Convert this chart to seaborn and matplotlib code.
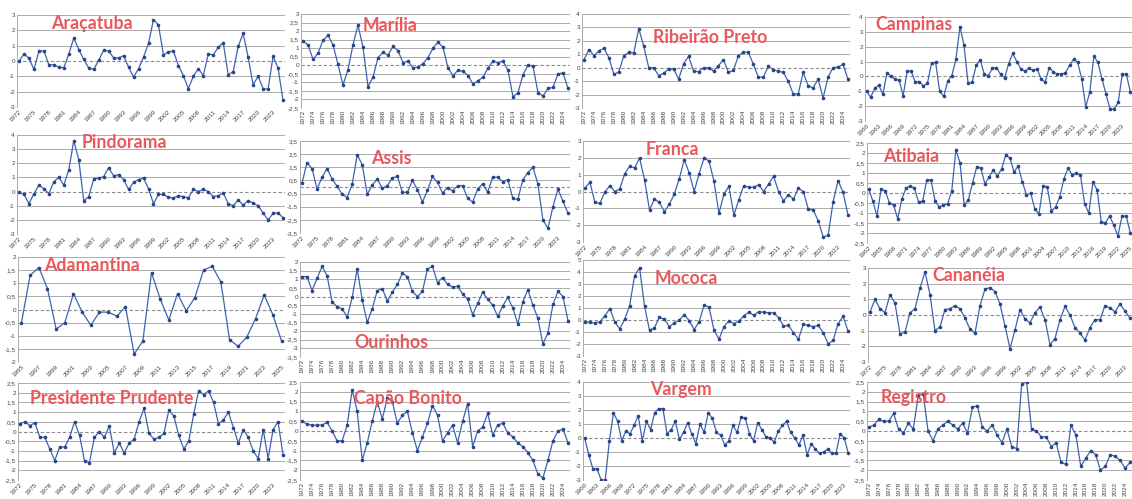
import matplotlib
matplotlib.use("Agg")
import matplotlib.pyplot as plt
import numpy as np
import pandas as pd
import seaborn as sns

# ---- data: standardized index per station (one value per year) ----
ARACATUBA = [0.0, 0.45, 0.2, -0.55, 0.65, 0.65, -0.25, -0.25, -0.4, -0.45, 0.45, 1.5, 0.75, 0.1,
             -0.45, -0.55, 0.05, 0.7, 0.65, 0.2, 0.2, 0.35, -0.4, -1.05, -0.5, 0.25, 1.15, 2.7,
             2.35, 0.4, 0.6, 0.65, -0.3, -0.95, -1.8, -1.0, -0.5, -0.95, 0.45, 0.4, 0.9, 1.2,
             -0.9, -0.7, 0.95, 1.8, 0.25, -1.55, -1.0, -1.8, -1.85, 0.3, -0.45, -2.55]
MARILIA = [1.4, 1.2, 0.35, 0.7, 1.45, 1.75, 1.2, 0.05, -1.15, -0.25, 1.2, 2.35, 1.05, -1.25,
           -0.7, 0.45, 0.75, 0.6, 1.1, 0.85, 0.15, 0.25, -0.15, -0.1, 0.1, 0.45, 1.0, 1.35,
           1.05, -0.15, -0.6, -0.3, -0.35, -0.6, -1.1, -0.9, -0.7, -0.15, 0.25, 0.15, 0.25,
           -0.3, -1.85, -1.6, -0.55, 0.0, -0.05, -1.6, -1.8, -1.35, -1.3, -0.5, -0.45, -1.35]
RIBEIRAO_PRETO = [0.6, 1.35, 0.9, 1.25, 1.45, 0.75, -0.5, -0.3, 0.9, 1.15, 1.1, 2.9, 1.6, 0.0,
                  0.0, -0.6, -0.4, -0.1, -0.1, -0.85, 0.3, 0.85, -0.25, -0.3, 0.0, 0.0, -0.25,
                  0.15, 0.6, -0.35, -0.2, 0.9, 1.15, 1.15, 0.25, -0.7, -0.7, 0.1, -0.15, -0.25,
                  -0.35, -1.0, -1.95, -1.95, -0.35, -1.35, -1.5, -0.85, -2.25, -0.7, 0.0, 0.05,
                  0.25, -0.85]
CAMPINAS = [-1.0, -1.4, -0.8, -0.6, -1.2, 0.2, 0.05, -0.2, -0.25, -1.3, 0.35, 0.35, -0.4,
            -0.35, -0.65, -0.45, 0.9, 0.95, -1.0, -1.35, -0.3, 0.05, 1.15, 3.35, 2.1, -0.45,
            -0.4, 0.75, 1.1, 0.15, 0.05, 0.55, 0.6, 0.15, -0.1, 0.85, 1.55, 1.0, 0.5, 0.35,
            0.55, 0.4, 0.5, -0.15, -0.4, 0.6, 0.3, 0.15, 0.15, 0.25, 0.75, 1.15, 0.95, -0.15,
            -2.05, -1.05, 1.35, 0.95, -0.15, -1.2, -2.2, -2.2, -1.75, 0.15, 0.15, -1.05]
PINDORAMA = [-0.05, -0.2, -0.85, -0.15, 0.45, 0.2, -0.15, 0.7, 1.0, 0.45, 1.55, 3.6, 2.25,
             -0.65, -0.35, 0.9, 0.95, 1.05, 1.7, 1.1, 1.2, 0.85, 0.15, 0.65, 0.85, 0.95, 0.2,
             -0.85, -0.2, -0.2, -0.4, -0.45, -0.3, -0.35, -0.45, 0.15, 0.0, 0.15, 0.0, -0.35,
             -0.3, -0.1, -0.85, -1.0, -0.6, -0.95, -0.65, -0.8, -1.0, -1.5, -2.0, -1.55, -1.5,
             -1.85]
ASSIS = [0.3, 1.85, 1.4, -0.15, 0.75, 1.4, 0.6, 0.05, -0.55, -0.8, 0.2, 2.45, 1.7, -0.55,
         0.15, 0.6, -0.1, 0.1, 0.7, 0.8, -0.4, -0.4, 0.5, -0.2, -1.15, -0.25, 0.8, 0.35, -0.45,
         -0.05, -0.3, 0.1, 0.1, -0.85, -1.15, -0.15, 0.25, -0.4, 0.75, 0.75, 0.4, 0.55, -0.85,
         -0.95, 0.55, 1.1, 1.5, 0.25, -2.5, -3.15, -1.5, -0.15, -1.1, -2.0]
FRANCA = [0.2, 0.55, -0.65, -0.7, -0.05, 0.35, 0.0, 0.15, 1.05, 1.5, 1.4, 2.0, 0.7, -1.1,
          -0.45, -0.65, -1.2, -0.75, -0.15, 0.75, 1.9, 1.1, 0.0, 1.05, 2.0, 1.8, 0.6, -1.3,
          -0.15, 0.3, -1.4, -0.5, 0.35, 0.25, 0.25, 0.4, 0.0, 0.45, 0.9, 0.0, -0.55, -0.2,
          -0.45, 0.2, 0.0, -1.05, -1.1, -1.75, -2.7, -2.6, -0.6, 0.65, -0.05, -1.4]
ATIBAIA = [0.2, -0.4, -1.15, 0.2, 0.1, -0.5, -0.6, -1.3, -0.3, 0.25, 0.35, 0.25, -0.45, -0.4,
           0.65, 0.65, -0.4, -0.7, -0.6, -0.55, 0.1, 2.15, 1.5, -0.6, -0.35, 0.5, 1.3, 1.25,
           0.45, 0.8, 1.15, 0.85, 1.2, 1.9, 1.75, 1.05, 1.35, 0.55, -0.1, 0.0, -0.8, -1.05,
           0.35, 0.3, -0.9, -0.7, -0.2, 0.7, 1.25, 0.9, 1.0, 0.9, -0.55, -1.0, 0.55, 0.15,
           -1.45, -1.5, -1.15, -1.6, -2.15, -1.15, -1.15, -2.0]
ADAMANTINA = [-0.5, 1.3, 1.6, 0.8, -0.75, -0.5, 0.6, -0.1, -0.6, -0.1, -0.1, -0.25, 0.1, -1.7,
              -1.2, 1.4, 0.4, -0.4, 0.6, -0.05, 0.45, 1.5, 1.65, 1.05, -1.15, -1.4, -1.05,
              -0.35, 0.55, -0.2, -1.2]
OURINHOS = [1.15, 1.15, 0.35, 1.05, 1.75, 1.2, -0.3, -0.6, -0.7, -1.2, -0.05, 1.6, -0.2, -1.5,
            -0.7, 0.35, 0.45, -0.25, 0.25, 0.7, 1.35, 1.15, 0.3, 0.0, 0.3, 1.6, 1.75, 0.8, 1.1,
            0.7, 0.55, 0.6, 0.15, -0.15, -1.05, -0.4, 0.25, -0.15, -0.5, -1.15, -0.55, -0.05,
            -0.65, -1.6, -0.3, 0.4, -0.5, -1.25, -2.75, -2.1, -0.45, 0.3, 0.0, -1.4]
MOCOCA = [-0.15, -0.2, -0.25, -0.15, 0.35, 0.95, -0.15, -0.75, 0.05, 1.2, 3.7, 4.35, 1.15,
          -0.85, -0.65, 0.25, 0.05, -0.55, -0.25, 0.0, 0.45, -0.05, -0.8, -0.15, 1.25, 1.05,
          -0.85, -1.6, -0.55, -0.05, -0.3, -0.1, 0.35, 0.65, 0.4, 0.7, 0.65, 0.6, 0.6, 0.2,
          -0.5, -0.45, -1.05, -1.6, -0.35, -0.45, -0.55, -0.45, -1.05, -2.0, -1.7, -0.3, 0.3,
          -0.9]
CANANEIA = [0.2, 1.0, 0.4, 0.15, 1.3, 0.75, -1.2, -1.1, 0.15, 0.4, 1.7, 2.75, 1.3, -1.0,
            -0.75, 0.35, 0.4, 0.6, 0.4, -0.2, -0.9, -1.15, 0.6, 1.65, 1.75, 1.5, 0.7, -0.7,
            -2.15, -0.95, 0.35, -0.25, -0.5, 0.15, 0.5, -0.3, -1.9, -1.5, -0.3, 0.55, 0.0,
            -0.8, -1.15, -1.6, -0.8, -0.3, -0.3, 0.6, 0.45, 0.2, 0.7, 0.25, -0.2]
PRESIDENTE_PRUDENTE = [0.4, 0.5, 0.3, 0.45, -0.3, -0.3, -0.9, -1.5, -0.8, -0.8, -0.3, 0.5, -0.2,
                       -1.5, -1.6, -0.3, 0.0, -0.3, 0.3, -1.1, -0.6, -1.1, -0.6, -0.4, 0.5, 1.2,
                       -0.1, -0.4, -0.3, -0.1, 1.1, 0.8, -0.2, -0.9, -0.5, 0.9, 2.1, 1.9, 2.1,
                       1.5, 0.4, 0.6, 1.0, 0.2, -0.6, 0.1, -0.3, -1.0, -1.4, 0.1, -1.4, 0.1,
                       0.5, -1.2]
CAPAO_BONITO = [0.5, 0.35, 0.3, 0.3, 0.3, 0.45, 0.0, -0.5, -0.5, 0.3, 2.1, 1.0, -1.5, -0.6,
                0.5, 1.5, 0.6, 1.7, 1.5, 0.4, 0.8, 1.0, -0.1, -1.0, -0.3, 0.4, 1.3, 0.8, -0.5,
                -0.1, 0.3, -0.6, 0.5, 1.4, -0.8, 0.0, 0.2, 0.9, -0.2, 0.3, 0.4, -0.1, -0.3,
                -0.6, -0.8, -1.1, -1.5, -2.2, -2.4, -1.5, -0.5, 0.0, 0.1, -0.6]
VARGEM = [0.0, -1.2, -2.2, -2.2, -3.0, -3.0, -0.2, 1.8, 1.2, -0.2, 0.5, 0.3, 0.9, 1.6, -0.2,
          1.2, 0.6, 1.8, 2.1, 2.1, 0.3, 0.6, 1.2, -0.1, 0.4, 1.1, 0.3, -0.4, 1.0, 0.4, 1.8, 1.4,
          0.4, 0.2, -0.5, -0.2, 0.9, 0.4, 1.5, 1.4, 0.3, -0.2, 1.1, 0.6, 0.1, 0.0, -0.3, 0.5,
          0.9, 1.2, 0.4, 0.0, -0.5, 0.2, -1.2, -0.4, -0.8, -1.1, -1.0, -0.8, -1.1, -1.1, 0.3,
          0.0, -1.1]
REGISTRO = [0.2, 0.3, 0.6, 0.5, 0.5, 0.9, 0.1, -0.1, 0.4, 0.1, 1.8, 1.9, 0.0, -0.5, 0.1, 0.3,
            0.5, 0.3, 0.1, 0.4, -0.1, 1.2, 1.3, 0.2, 0.0, 0.3, -0.2, -0.6, 0.1, -0.8, -0.9, 2.4,
            2.5, 0.1, 0.0, -0.3, -0.3, -0.8, -0.6, -1.6, -1.7, 0.3, -0.2, -1.8, -1.4, -1.0,
            -1.2, -2.0, -1.8, -1.2, -1.3, -1.5, -1.9, -1.6]

# name, series, first year, y range, y step, x-label step, label rotation
SERIES = [
    ("Araçatuba", ARACATUBA, 1972, (-3, 3), 1, 3, 45),
    ("Marília", MARILIA, 1972, (-2.5, 3), 0.5, 2, 90),
    ("Ribeirão Preto", RIBEIRAO_PRETO, 1972, (-3, 4), 1, 2, 90),
    ("Campinas", CAMPINAS, 1960, (-3, 4), 1, 3, 45),
    ("Pindorama", PINDORAMA, 1972, (-3, 4), 1, 3, 45),
    ("Assis", ASSIS, 1972, (-3.5, 3.5), 1, 3, 45),
    ("Franca", FRANCA, 1972, (-3, 3), 1, 3, 45),
    ("Atibaia", ATIBAIA, 1962, (-2.5, 2.5), 0.5, 3, 45),
    ("Adamantina", ADAMANTINA, 1995, (-2, 2), 0.5, 2, 45),
    ("Ourinhos", OURINHOS, 1972, (-3.5, 2), 0.5, 2, 90),
    ("Mococa", MOCOCA, 1972, (-3, 5), 1, 2, 90),
    ("Cananéia", CANANEIA, 1972, (-3, 3), 1, 3, 45),
    ("Presidente Prudente", PRESIDENTE_PRUDENTE, 1972, (-2.5, 2.5), 0.5, 3, 45),
    ("Capão Bonito", CAPAO_BONITO, 1972, (-2.5, 2.5), 0.5, 2, 90),
    ("Vargem", VARGEM, 1960, (-3, 4), 1, 3, 45),
    ("Registro", REGISTRO, 1972, (-2.5, 2.5), 0.5, 2, 90),
]

# plot-area boxes in pixels: left, top, right, bottom ; title anchor in axes fraction
LAYOUT = [
    ((17, 15, 285, 107), (0.127, 0.91)),
    ((301, 14, 570, 108), (0.23, 0.88)),
    ((582, 14, 850, 108), (0.265, 0.755)),
    ((865, 17, 1132, 121), (0.04, 0.93)),
    ((17, 135, 285, 234), (0.24, 0.92)),
    ((300, 141, 570, 233), (0.263, 0.815)),
    ((583, 141, 850, 242), (0.235, 0.92)),
    ((867, 143, 1132, 243), (0.06, 0.87)),
    ((18, 257, 285, 362), (0.097, 0.92)),
    ((300, 262, 570, 357), (0.20, 0.15)),
    ((583, 260, 850, 356), (0.27, 0.81)),
    ((868, 268, 1132, 362), (0.245, 0.925)),
    ((18, 383, 285, 480), (0.045, 0.84)),
    ((300, 382, 570, 480), (0.20, 0.83)),
    ((583, 382, 850, 480), (0.25, 0.92)),
    ((867, 382, 1132, 480), (0.05, 0.84)),
]

W, H = 1132, 499
LINE_BLUE = "#3d63b0"
DOT_BLUE = "#2a4585"
TITLE_RED = "#e8585c"
GRID_GREY = "#ababab"


def comma_label(value: float) -> str:
    text = f"{value:g}"
    return text.replace(".", ",")


def draw_panel(fig, box, title_xy, name, values, start, y_range, y_step, x_step, rotation):
    left, top, right, bottom = box
    ax = fig.add_axes([left / W, 1 - bottom / H, (right - left) / W, (bottom - top) / H])
    df = pd.DataFrame({"year": np.arange(start, start + len(values)), "value": values})

    ax.axhline(0, color="#8c8c8c", linewidth=0.8, linestyle=(0, (3, 2)), zorder=1)
    sns.lineplot(data=df, x="year", y="value", ax=ax, color=LINE_BLUE, linewidth=0.9,
                 marker="o", markersize=2.6, markerfacecolor=DOT_BLUE, markeredgewidth=0,
                 zorder=3)

    ymin, ymax = y_range
    yticks = np.arange(ymin, ymax + y_step / 2, y_step)
    ax.set_ylim(ymin, ymax)
    ax.set_yticks(yticks)
    ax.set_yticklabels([comma_label(t) for t in yticks], fontsize=4.6, color="#444444")
    for t in yticks:
        if abs(t) > 1e-9:
            ax.axhline(t, color=GRID_GREY, linewidth=0.7, zorder=0)

    end = start + len(values) - 1
    ax.set_xlim(start - 0.4, end + 0.4)
    xticks = np.arange(start, end + 1, x_step)
    ax.set_xticks(xticks)
    ax.set_xticklabels([str(x) for x in xticks], fontsize=4.6, color="#444444",
                       rotation=rotation, ha="right" if rotation == 45 else "center",
                       rotation_mode="anchor" if rotation == 45 else "default")
    ax.tick_params(axis="both", length=0, pad=1.5)
    ax.set_xlabel("")
    ax.set_ylabel("")
    ax.grid(False)
    for side in ("top", "right", "bottom"):
        ax.spines[side].set_visible(False)
    ax.spines["left"].set_color(GRID_GREY)
    ax.spines["left"].set_linewidth(0.7)
    ax.set_facecolor("none")

    ax.text(title_xy[0], title_xy[1], name, transform=ax.transAxes, fontsize=12.8,
            fontweight="bold", color=TITLE_RED, ha="left", va="center",
            family=["Lato", "DejaVu Sans"], zorder=5)


def main() -> None:
    sns.set_theme(style="white")
    plt.rcParams["font.family"] = ["Liberation Sans", "DejaVu Sans"]
    fig = plt.figure(figsize=(W / 100, H / 100), dpi=100)
    fig.patch.set_facecolor("white")
    for (name, values, start, y_range, y_step, x_step, rotation), (box, title_xy) in zip(SERIES, LAYOUT):
        draw_panel(fig, box, title_xy, name, values, start, y_range, y_step, x_step, rotation)
    fig.savefig("out.png", dpi=100)


if __name__ == "__main__":
    main()
